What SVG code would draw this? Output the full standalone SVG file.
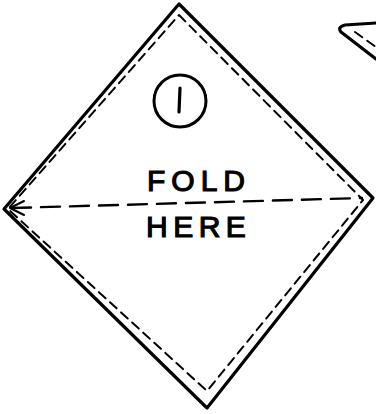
<svg xmlns="http://www.w3.org/2000/svg" width="376" height="414" viewBox="0 0 376 414">
<style>
.outer{fill:none;stroke:#000;stroke-width:3.2;stroke-linejoin:round;stroke-linecap:round}
.inner{fill:none;stroke:#000;stroke-width:2;stroke-dasharray:9 6;stroke-linecap:round;stroke-linejoin:round}
.fold{fill:none;stroke:#000;stroke-width:2.4;stroke-dasharray:19 10;stroke-linecap:round}
.lbl{font-family:"Liberation Sans",Arial,sans-serif;font-size:30px;fill:#000;stroke:#000;stroke-width:1.2}
</style>
<rect width="376" height="414" fill="#fff"/>
<g id="square">
<path class="outer" d="M179,4 L373,198 L207,408 L4,209 Z"/>
<path class="inner" d="M179,15 L363,200 L207,391 L8,209 Z"/>
</g>
<g id="connectors">
<path class="fold" d="M12,208 L362,198"/>
<path class="outer" style="stroke-width:2" d="M24,201 L10,208 L24,215"/>
</g>
<g id="step-number">
<circle cx="180" cy="101" r="26" fill="none" stroke="#000" stroke-width="3"/>
<path d="M180,88 L179,112" stroke="#000" stroke-width="3.2" stroke-linecap="round"/>
</g>
<g id="label">
<text class="lbl" x="147" y="191" letter-spacing="6">FOLD</text>
<text class="lbl" x="146" y="237" letter-spacing="5.5">HERE</text>
</g>
<g id="next-shape">
<path class="outer" d="M376,23 L345,25 Q337,27 341,32 L376,59"/>
<path class="inner" d="M355,32 L376,47"/>
</g>
</svg>
